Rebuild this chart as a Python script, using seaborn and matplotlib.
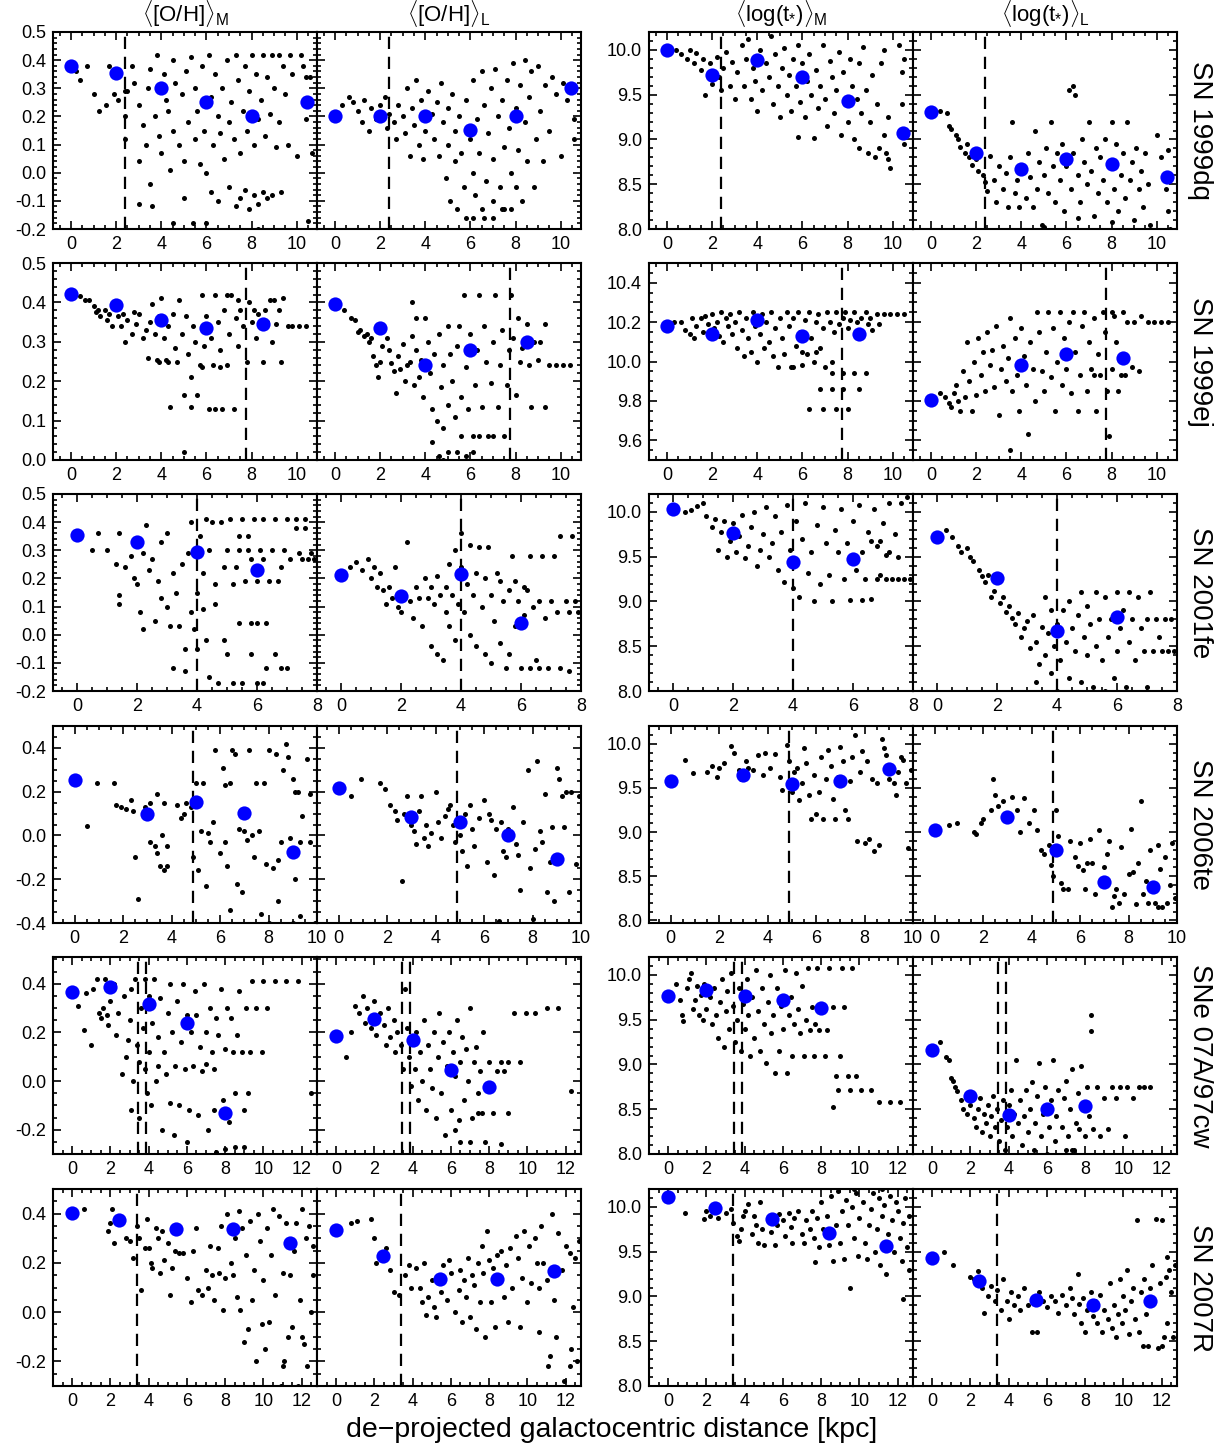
import matplotlib
matplotlib.use('Agg')
import matplotlib.pyplot as plt
import seaborn as sns
from matplotlib.ticker import AutoMinorLocator

# ---------------- data ----------------
# x = de-projected distance [kpc]; y = value in each panel
# bin centres (blue dots) per supernova host
dq_bins = [0, 2, 4, 6, 8, 10.45]
ej_bins = [0, 2, 4, 6, 8.5]
ej_agel_bins = [0, 4, 6, 8.5]
fe_bins = [0, 2, 4, 6]
te_bins = [0, 3, 5, 7, 9]
cw_bins = [0, 2, 4, 6, 8]
r_bins = [0, 2.45, 5.45, 8.4, 11.4]

dq_ohm_mean = [0.38, 0.355, 0.30, 0.253, 0.20, 0.253]
dq_ohl_mean = [0.20, 0.20, 0.20, 0.153, 0.20, 0.30]
dq_agem_mean = [10.0, 9.715, 9.89, 9.70, 9.43, 9.07]
dq_agel_mean = [9.31, 8.85, 8.67, 8.78, 8.73, 8.58]
ej_ohm_mean = [0.421, 0.393, 0.355, 0.335, 0.345]
ej_ohl_mean = [0.395, 0.335, 0.24, 0.278, 0.30]
ej_agem_mean = [10.18, 10.14, 10.21, 10.13, 10.14]
ej_agel_mean = [9.805, 9.98, 10.04, 10.02]
fe_ohm_mean = [0.355, 0.329, 0.293, 0.231]
fe_ohl_mean = [0.213, 0.136, 0.215, 0.043]
fe_agem_mean = [10.03, 9.77, 9.44, 9.47]
fe_agel_mean = [9.72, 9.26, 8.67, 8.83]
te_ohm_mean = [0.252, 0.098, 0.151, 0.101, -0.075]
te_ohl_mean = [0.215, 0.083, 0.063, 0.0, -0.106]
te_agem_mean = [9.575, 9.65, 9.54, 9.58, 9.71]
te_agel_mean = [9.02, 9.17, 8.80, 8.43, 8.38]
cw_ohm_mean = [0.365, 0.385, 0.315, 0.24, -0.13]
cw_ohl_mean = [0.185, 0.255, 0.17, 0.045, -0.025]
cw_agem_mean = [9.77, 9.83, 9.77, 9.72, 9.63]
cw_agel_mean = [9.16, 8.65, 8.43, 8.5, 8.54]
r_ohm_mean = [0.404, 0.374, 0.336, 0.336, 0.28]
r_ohl_mean = [0.334, 0.226, 0.135, 0.135, 0.168]
r_agem_mean = [10.11, 9.99, 9.86, 9.71, 9.56]
r_agel_mean = [9.43, 9.17, 8.96, 8.91, 8.95]

# individual spaxels (black dots), (distance, value)
dq_ohm_pts = [(0.2,0.36),(0.4,0.33),(0.7,0.38),(1.0,0.28),(1.25,0.22),(1.55,0.24),(1.7,0.38),(1.9,0.28),(2.1,0.26),(2.4,0.29),(2.4,0.2),(2.4,0.12),(2.5,0.29),(2.7,0.38),
    (2.8,0.32),(3.0,0.24),(3.0,0.04),(3.2,0.17),(3.3,0.10),(3.4,0.30),(3.5,-0.04),(3.5,0.37),(3.7,0.20),(3.6,-0.12),
    (3.8,0.42),(3.9,0.13),(4.0,0.07),(4.1,0.35),(4.2,0.26),(4.3,0.22),(4.4,0.01),(4.5,0.40),(4.5,0.15),(4.6,0.32),
    (4.8,0.10),(4.9,0.28),(5.0,-0.09),(5.0,0.04),(5.1,0.36),(5.2,0.18),(5.3,0.41),(5.4,-0.18),(5.5,0.12),(5.5,0.30),(5.6,0.22),(5.7,0.03),(5.8,0.38),
    (5.9,0.15),(6.0,0.00),(6.1,0.42),(6.2,0.27),(6.2,-0.07),(6.3,0.10),(6.4,0.35),(6.5,0.20),(6.5,-0.10),(6.6,0.14),(6.7,0.30),(6.8,0.05),(6.9,0.40),
    (7.0,0.18),(7.0,-0.05),(7.1,0.25),(7.2,0.12),(7.3,0.42),(7.3,-0.12),(7.4,0.33),(7.5,0.07),(7.5,-0.09),(7.6,0.22),(7.7,0.38),(7.7,-0.06),(7.8,0.15),(7.9,0.29),(7.9,-0.13),
    (8.0,0.42),(8.1,0.10),(8.1,-0.08),(8.2,0.35),(8.3,0.19),(8.3,-0.11),(8.4,0.26),(8.5,0.42),(8.5,-0.07),(8.6,0.13),(8.7,0.34),(8.7,-0.09),(8.8,0.21),(8.9,0.42),(8.9,-0.08),
    (9.0,0.30),(9.1,0.09),(9.2,0.42),(9.2,0.18),(9.3,-0.07),(9.4,0.38),(9.5,0.28),(9.6,0.10),(9.7,0.42),(9.8,0.35),(10.0,0.06),(10.2,0.42),(10.3,0.38),(10.4,0.19),
    (10.5,-0.17),(10.6,0.34),(10.7,0.07),(10.4,0.34),(4.5,-0.18),(6.0,-0.18),(8.3,-0.2),(3.0,-0.11)]
dq_ohl_pts = [(0.3,0.24),(0.6,0.27),(0.8,0.25),(1.0,0.22),(1.2,0.18),(1.3,0.26),(1.5,0.15),(1.6,0.23),(1.8,0.19),(2.0,0.24),(2.2,0.27),(2.3,0.16),(2.4,0.21),
    (2.6,0.18),(2.7,0.12),(2.8,0.24),(3.0,0.20),(3.1,0.14),(3.2,0.30),(3.3,0.06),(3.4,0.23),(3.5,0.17),(3.6,0.33),(3.7,0.10),(3.8,0.26),(3.9,0.05),(4.0,0.15),(4.1,0.29),
    (4.3,0.21),(4.4,0.12),(4.5,0.25),(4.6,0.06),(4.7,0.32),(4.8,0.18),(4.9,-0.02),(5.0,0.10),(5.0,0.23),(5.1,-0.10),(5.2,0.28),(5.3,0.04),(5.3,0.15),(5.4,-0.13),(5.5,0.20),(5.6,0.07),(5.7,-0.05),(5.8,0.26),(5.8,-0.16),
    (6.0,0.12),(6.1,0.00),(6.1,0.33),(6.2,-0.08),(6.3,0.19),(6.4,0.07),(6.5,0.36),(6.5,-0.13),(6.6,0.24),(6.7,-0.03),(6.8,0.14),(6.9,0.30),(7.0,0.05),(7.0,-0.10),
    (7.1,0.37),(7.2,0.20),(7.3,-0.05),(7.4,0.26),(7.5,0.09),(7.5,-0.13),(7.6,0.33),(7.7,0.16),(7.8,0.00),(7.9,0.39),(8.0,0.23),(8.0,-0.05),(8.1,0.08),(8.2,0.31),(8.3,-0.10),
    (8.4,0.40),(8.4,0.18),(8.5,0.04),(8.6,0.27),(8.7,0.36),(8.8,-0.05),(8.9,0.12),(9.0,0.38),(9.1,0.22),(9.2,0.04),(9.3,0.31),(9.5,0.15),(9.6,0.34),(9.8,0.28),(10.0,0.06),
    (10.1,0.32),(10.3,0.26),(10.6,0.12),(10.6,0.19),(6.1,-0.16),(6.6,-0.16),(7.0,-0.16),(7.4,-0.13),(7.8,-0.13)]
dq_agem_pts = [(0.4,10.0),(0.6,9.95),(0.9,9.9),(1.0,10.0),(1.2,9.85),(1.3,9.97),(1.5,9.78),(1.6,9.9),(1.7,9.5),(1.9,9.85),(2.0,9.62),(2.2,9.92),(2.3,9.7),(2.4,9.55),
    (2.5,9.8),(2.6,9.98),(2.8,9.6),(2.9,9.87),(3.0,9.45),(3.1,9.75),(3.3,10.05),(3.4,9.6),(3.5,9.9),(3.6,10.12),(3.7,9.45),(3.8,9.8),(3.9,9.65),(4.0,9.32),(4.1,10.0),(4.2,9.55),
    (4.4,9.85),(4.5,9.7),(4.6,10.15),(4.7,9.4),(4.8,9.95),(4.9,9.6),(5.0,9.25),(5.1,9.8),(5.2,10.02),(5.3,9.5),(5.4,9.72),(5.5,9.32),(5.6,9.9),(5.7,9.6),(5.8,10.05),(5.8,9.03),(5.9,9.42),
    (6.0,9.85),(6.1,9.25),(6.2,9.65),(6.3,9.95),(6.4,9.5),(6.5,9.02),(6.6,9.78),(6.7,9.35),(6.8,9.6),(6.9,10.05),(7.0,9.45),(7.1,9.15),(7.2,9.88),(7.3,9.7),(7.4,9.3),(7.5,9.55),
    (7.6,9.98),(7.7,9.05),(7.8,9.75),(7.9,9.4),(8.0,9.2),(8.1,9.9),(8.2,9.6),(8.3,9.0),(8.4,9.45),(8.5,9.85),(8.5,8.9),(8.6,9.3),(8.7,10.03),(8.8,9.55),(8.9,8.85),(9.0,9.2),
    (9.1,9.72),(9.2,8.8),(9.3,9.4),(9.4,8.9),(9.5,9.85),(9.6,9.05),(9.7,8.85),(9.8,9.25),(9.9,8.68),(9.8,8.78),(10.3,10.05),(10.4,9.75),(10.4,9.4),(10.5,9.9),(9.6,10.0),(10.5,8.95)]
dq_agel_pts = [(0.4,9.32),(0.7,9.3),(0.8,9.15),(0.9,9.12),(1.1,9.05),(1.2,9.0),(1.3,8.92),(1.5,8.85),(1.6,8.95),(1.7,8.8),(1.8,8.72),(2.0,8.78),(2.1,8.65),(2.3,8.6),
    (2.4,8.52),(2.5,8.42),(2.6,8.82),(2.8,8.55),(2.9,8.3),(3.0,8.7),(3.2,8.45),(3.3,8.62),(3.4,8.25),(3.5,8.8),(3.6,9.2),(3.7,8.4),(3.8,8.55),(3.9,8.25),(4.0,8.7),(4.2,8.35),
    (4.3,8.85),(4.4,8.58),(4.5,8.25),(4.6,9.1),(4.7,8.45),(4.8,8.75),(4.9,8.05),(5.0,8.6),(5.1,8.9),(5.2,8.4),(5.3,9.2),(5.4,8.7),(5.5,8.3),(5.6,8.85),(5.7,8.55),(5.8,8.95),
    (5.9,8.2),(6.0,8.7),(6.1,9.55),(6.2,8.45),(6.3,9.6),(6.3,8.85),(6.4,9.5),(6.5,8.6),(6.6,8.3),(6.7,9.0),(6.8,8.75),(6.9,8.5),(7.0,9.2),(7.1,8.65),(7.2,8.15),(7.3,8.9),
    (7.4,8.4),(7.5,8.8),(7.6,8.55),(7.7,9.0),(7.8,8.3),(7.9,8.7),(8.0,9.2),(8.1,8.45),(8.2,8.95),(8.3,8.2),(8.4,8.6),(8.5,8.85),(8.6,8.35),(8.7,9.2),(8.8,8.55),(8.9,8.75),
    (9.0,8.1),(9.1,8.9),(9.2,8.45),(9.3,8.65),(9.4,8.25),(9.5,8.85),(9.6,8.5),(9.7,8.05),(10.0,9.05),(10.2,8.8),(10.4,8.45),(10.5,8.2),(10.6,8.0),(10.5,8.88),(5.0,8.02),(8.0,8.08),(6.5,8.12)]

ej_ohm_pts = [(0.4,0.415),(0.6,0.405),(0.8,0.405),(1.0,0.39),(1.1,0.375),(1.2,0.38),(1.3,0.365),(1.5,0.38),(1.6,0.355),(1.7,0.37),(1.8,0.34),(1.9,0.385),(2.1,0.365),
    (2.2,0.34),(2.3,0.37),(2.4,0.30),(2.5,0.355),(2.7,0.32),(2.8,0.375),(2.9,0.345),(3.0,0.37),(3.2,0.31),(3.3,0.33),(3.4,0.26),(3.5,0.35),(3.6,0.395),(3.7,0.32),(3.8,0.255),
    (3.9,0.365),(4.0,0.41),(4.1,0.31),(4.2,0.255),(4.3,0.34),(4.4,0.135),(4.5,0.37),(4.6,0.285),(4.7,0.25),(4.8,0.405),(4.9,0.32),(5.0,0.165),(5.0,0.02),(5.1,0.365),(5.2,0.27),
    (5.3,0.21),(5.4,0.34),(5.5,0.30),(5.6,0.165),(5.7,0.24),(5.8,0.42),(5.9,0.29),(6.0,0.365),(6.1,0.13),(6.2,0.31),(6.3,0.24),(6.4,0.42),(6.5,0.35),(6.6,0.28),(6.7,0.13),
    (6.8,0.38),(6.9,0.24),(7.0,0.32),(7.1,0.42),(7.2,0.13),(7.3,0.36),(7.4,0.29),(7.5,0.38),(7.6,0.34),(7.8,0.25),(7.9,0.40),(8.0,0.35),(8.1,0.38),(8.2,0.31),(8.3,0.37),
    (8.5,0.25),(8.6,0.38),(8.7,0.35),(8.9,0.30),(9.0,0.405),(9.1,0.345),(9.2,0.38),(9.3,0.25),(9.4,0.41),(9.6,0.34),(9.8,0.34),(10.1,0.34),(10.4,0.34),(6.9,0.42),(7.4,0.405),
    (8.8,0.405),(5.3,0.135),(6.4,0.13),(5.8,0.235),(6.6,0.235),(4.3,0.25),(3.9,0.25)]
ej_ohl_pts = [(0.4,0.38),(0.7,0.36),(0.9,0.355),(1.0,0.325),(1.1,0.33),(1.3,0.315),(1.4,0.32),(1.5,0.30),(1.6,0.31),(1.7,0.265),(1.8,0.24),(1.9,0.21),(2.0,0.25),
    (2.1,0.29),(2.3,0.31),(2.4,0.28),(2.5,0.245),(2.6,0.225),(2.7,0.17),(2.8,0.265),(2.9,0.23),(3.0,0.295),(3.1,0.20),(3.2,0.24),(3.3,0.25),(3.4,0.315),(3.4,0.40),(3.5,0.19),
    (3.6,0.28),(3.6,0.36),(3.7,0.21),(3.8,0.255),(3.9,0.16),(4.0,0.36),(4.1,0.30),(4.2,0.22),(4.3,0.13),(4.4,0.27),(4.5,0.10),(4.6,0.32),(4.7,0.185),(4.8,0.08),(4.8,0.24),
    (5.0,0.34),(5.0,0.14),(5.1,0.27),(5.2,0.20),(5.3,0.11),(5.4,0.29),(5.5,0.34),(5.6,0.16),(5.7,0.42),(5.8,0.235),(5.9,0.13),(6.0,0.32),(6.1,0.06),(6.2,0.19),(6.3,0.28),
    (6.4,0.42),(6.5,0.135),(6.6,0.34),(6.7,0.25),(6.8,0.06),(6.9,0.195),(7.0,0.30),(7.1,0.42),(7.2,0.135),(7.3,0.24),(7.4,0.33),(7.5,0.06),(7.6,0.19),(7.7,0.28),(7.8,0.42),
    (7.9,0.31),(8.0,0.165),(8.1,0.36),(8.2,0.25),(8.3,0.285),(8.5,0.345),(8.6,0.24),(8.7,0.135),(8.8,0.30),(9.0,0.255),(9.1,0.30),(9.3,0.135),(9.3,0.345),(9.5,0.24),
    (9.8,0.24),(10.1,0.24),(10.4,0.24),(4.3,0.045),(4.6,0.01),(5.0,0.02),(5.4,0.02),(5.8,0.01),(6.1,0.02),(4.8,0.0),(5.6,0.06),(6.4,0.06),(7.0,0.06)]
ej_agem_pts = [(0.3,10.2),(0.6,10.2),(0.8,10.16),(1.0,10.14),(1.1,10.22),(1.2,10.12),(1.3,10.18),(1.5,10.22),(1.6,10.15),(1.7,10.23),(1.8,10.19),(2.0,10.24),(2.1,10.17),
    (2.2,10.2),(2.3,10.13),(2.4,10.25),(2.5,10.1),(2.6,10.22),(2.7,10.18),(2.8,10.24),(2.9,10.14),(3.0,10.2),(3.1,10.07),(3.2,10.25),(3.3,10.16),(3.4,10.03),(3.5,10.22),
    (3.6,10.12),(3.7,10.05),(3.8,10.25),(3.9,10.18),(4.0,10.0),(4.1,10.14),(4.2,10.24),(4.3,10.07),(4.4,10.2),(4.5,10.1),(4.6,10.25),(4.7,10.03),(4.8,10.17),(4.9,9.97),
    (5.0,10.22),(5.1,10.12),(5.2,10.04),(5.3,10.25),(5.4,10.18),(5.5,9.97),(5.6,10.22),(5.7,10.08),(5.8,10.25),(5.9,10.15),(6.0,9.98),(6.1,10.21),(6.2,10.04),(6.3,10.25),
    (6.4,10.12),(6.5,10.0),(6.6,10.2),(6.7,10.24),(6.8,10.07),(6.9,10.17),(7.0,9.97),(7.1,10.25),(7.2,10.2),(7.3,10.0),(7.4,10.15),(7.5,10.25),(7.6,10.19),(7.8,10.22),
    (7.9,10.25),(8.0,10.17),(8.1,10.21),(8.3,10.25),(8.4,10.2),(8.5,10.16),(8.6,10.22),(8.8,10.25),(8.9,10.19),(9.0,10.22),(9.1,10.16),(9.3,10.24),(9.4,10.19),(9.6,10.24),
    (9.9,10.24),(10.2,10.24),(10.5,10.24),(7.3,9.94),(7.8,9.94),(8.3,9.94),(8.8,9.94),(6.8,9.86),(7.3,9.86),(7.8,9.86),(8.5,9.86),(6.3,9.76),(6.9,9.76),(7.5,9.76),(8.0,9.76),
    (6.0,10.05),(6.6,10.05),(5.6,9.97)]
ej_agel_pts = [(0.4,9.84),(0.6,9.82),(0.8,9.79),(0.9,9.77),(1.0,9.84),(1.1,9.88),(1.2,9.8),(1.3,9.75),(1.4,9.95),(1.5,9.82),(1.6,10.1),(1.7,9.9),(1.8,9.75),(1.9,10.0),
    (2.0,9.83),(2.1,10.12),(2.2,9.93),(2.3,10.05),(2.4,9.85),(2.5,10.15),(2.6,9.98),(2.7,10.06),(2.8,9.87),(2.9,10.18),(3.0,9.73),(3.1,9.96),(3.2,10.08),(3.3,9.9),(3.4,10.02),
    (3.5,10.22),(3.5,9.55),(3.6,9.85),(3.7,10.12),(3.8,9.93),(3.9,9.75),(4.0,10.17),(4.1,10.03),(4.2,9.88),(4.3,9.63),(4.4,10.1),(4.5,9.96),(4.6,9.8),(4.7,10.25),(4.8,10.15),
    (4.9,9.95),(5.0,9.85),(5.1,10.05),(5.2,10.25),(5.3,9.92),(5.4,10.17),(5.5,9.75),(5.6,10.0),(5.7,10.25),(5.8,9.88),(5.9,10.12),(6.0,9.96),(6.1,10.2),(6.2,9.84),(6.3,10.25),
    (6.4,10.05),(6.5,9.75),(6.6,9.93),(6.7,10.18),(6.8,10.25),(6.9,9.85),(7.0,10.1),(7.1,9.96),(7.2,10.22),(7.3,9.75),(7.4,10.04),(7.5,9.93),(7.6,10.25),(7.7,10.15),(7.8,9.85),
    (7.9,9.62),(8.0,9.96),(8.1,10.23),(8.2,10.1),(8.3,9.85),(8.4,9.93),(8.5,10.25),(8.7,10.2),(8.9,9.97),(9.0,10.2),(9.2,9.95),(9.3,10.23),(9.6,10.2),(9.9,10.2),(10.2,10.2),
    (10.5,10.2),(8.0,10.25),(7.2,9.93),(8.6,9.93)]

fe_ohm_pts = [(0.5,0.30),(0.7,0.36),(1.0,0.30),(1.4,0.36),(1.3,0.25),(1.4,0.14),(1.4,0.11),(1.6,0.24),(1.8,0.28),(1.9,0.2),(2.0,0.18),(2.1,0.08),(2.2,0.29),(2.2,0.02),
    (2.3,0.39),(2.4,0.23),(2.5,0.27),(2.6,0.05),(2.7,0.19),(2.8,0.13),(2.8,0.33),(3.0,0.1),(3.0,0.36),(3.1,0.03),(3.2,0.22),(3.2,-0.12),(3.3,0.15),(3.4,0.03),(3.5,0.25),
    (3.6,-0.05),(3.6,-0.13),(3.7,0.29),(3.8,0.4),(3.8,0.08),(3.9,0.02),(4.0,0.15),(4.0,-0.05),(4.1,0.35),(4.2,0.09),(4.2,0.22),(4.3,-0.02),(4.3,0.41),(4.4,0.3),(4.4,-0.15),
    (4.5,0.4),(4.6,0.18),(4.6,0.11),(4.7,-0.17),(4.8,0.4),(4.9,0.24),(4.9,-0.02),(5.0,0.3),(5.0,-0.07),(5.1,0.41),(5.2,0.18),(5.2,-0.17),(5.3,0.24),(5.4,0.3),(5.4,0.04),
    (5.5,0.41),(5.5,-0.17),(5.6,0.19),(5.7,0.3),(5.8,0.04),(5.8,-0.07),(5.9,0.41),(6.0,-0.17),(6.0,0.19),(6.1,0.3),(6.2,0.41),(6.3,0.04),(6.3,-0.12),(6.4,0.19),(6.5,0.3),
    (6.6,0.41),(6.6,-0.07),(6.7,0.19),(6.8,-0.12),(6.9,0.3),(7.0,0.41),(7.0,-0.12),(7.1,0.27),(7.3,0.41),(7.3,0.38),(7.4,0.29),(7.5,0.27),(7.6,0.41),(7.7,0.27),(7.8,0.29),
    (7.9,0.27),(7.6,0.38),(5.4,0.35),(5.7,0.35),(6.0,0.04),(6.8,0.24),(6.2,-0.17),(5.8,0.27),(6.2,0.27)]
fe_ohl_pts = [(0.3,0.24),(0.5,0.26),(0.7,0.23),(0.9,0.27),(1.0,0.2),(1.1,0.24),(1.2,0.17),(1.3,0.22),(1.4,0.16),(1.5,0.11),(1.6,0.17),(1.7,0.13),(1.8,0.24),(1.9,0.1),
    (2.0,0.08),(2.1,0.15),(2.2,0.33),(2.3,0.12),(2.4,0.06),(2.5,0.17),(2.6,0.13),(2.7,0.03),(2.8,0.2),(2.9,0.13),(3.0,-0.04),(3.0,0.17),(3.1,0.11),(3.2,-0.07),(3.2,0.21),
    (3.3,0.14),(3.4,-0.09),(3.5,0.17),(3.5,0.08),(3.6,0.25),(3.6,0.03),(3.7,0.14),(3.8,0.3),(3.8,-0.02),(3.9,0.11),(4.0,0.36),(4.0,0.24),(4.1,0.08),(4.2,0.18),(4.3,0.32),
    (4.3,0.0),(4.4,0.14),(4.5,0.22),(4.5,-0.04),(4.6,0.31),(4.7,0.1),(4.8,-0.07),(4.8,0.2),(4.9,0.31),(5.0,0.14),(5.0,-0.1),(5.1,0.05),(5.2,0.22),(5.3,-0.03),(5.4,0.12),
    (5.5,-0.12),(5.6,0.16),(5.6,-0.07),(5.7,0.28),(5.8,0.03),(5.9,0.12),(6.0,-0.12),(6.1,0.07),(6.2,0.16),(6.3,-0.12),(6.3,0.28),(6.4,0.1),(6.5,-0.09),(6.6,0.12),(6.7,0.28),
    (6.8,0.06),(6.9,-0.12),(7.0,0.12),(7.1,0.28),(7.2,0.08),(7.3,-0.12),(7.3,0.35),(7.5,0.12),(7.6,0.08),(7.7,0.35),(7.8,0.12),(7.9,0.08),(7.6,-0.13),(6.6,-0.12),(5.3,0.19),
    (5.8,0.19),(6.1,0.17)]
fe_agem_pts = [(0.4,10.0),(0.6,10.02),(0.8,10.07),(1.0,10.1),(1.1,9.95),(1.3,9.83),(1.4,9.92),(1.5,9.58),(1.6,9.78),(1.7,9.9),(1.8,9.5),(1.9,9.67),(2.0,9.88),(2.1,9.55),
    (2.2,9.73),(2.3,9.97),(2.4,9.48),(2.5,9.62),(2.6,9.83),(2.7,10.0),(2.8,9.4),(2.9,9.58),(3.0,9.75),(3.1,10.05),(3.2,9.5),(3.3,9.65),(3.4,9.95),(3.5,9.35),(3.6,9.78),
    (3.7,9.22),(3.8,10.08),(3.9,9.57),(4.0,9.15),(4.1,9.9),(4.2,9.05),(4.3,9.7),(4.4,10.1),(4.5,9.32),(4.6,9.55),(4.7,9.0),(4.8,9.85),(4.9,9.2),(5.0,10.05),(5.1,9.65),
    (5.2,9.3),(5.3,9.0),(5.4,9.8),(5.5,9.55),(5.6,10.03),(5.7,9.25),(5.8,9.65),(5.9,9.02),(6.0,9.9),(6.1,9.35),(6.2,10.08),(6.3,9.55),(6.4,9.25),(6.5,9.78),(6.6,9.03),
    (6.7,10.03),(6.8,9.62),(6.9,9.3),(7.0,9.88),(7.1,9.52),(7.2,10.1),(7.3,9.25),(7.4,9.75),(7.5,9.5),(7.6,10.1),(7.7,9.25),(7.9,9.25),(7.8,10.17),(7.5,9.25),(7.1,9.25),
    (6.8,9.25),(6.3,9.02),(6.9,9.67),(6.6,9.67),(7.2,9.55)]
fe_agel_pts = [(0.3,9.8),(0.5,9.72),(0.7,9.62),(0.8,9.55),(1.0,9.6),(1.1,9.5),(1.2,9.45),(1.4,9.35),(1.5,9.28),(1.6,9.22),(1.7,9.3),(1.8,9.05),(1.9,9.12),(2.1,8.98),
    (2.2,9.05),(2.3,8.88),(2.4,8.95),(2.5,8.82),(2.6,8.75),(2.7,8.87),(2.8,8.6),(2.9,8.7),(3.0,8.78),(3.1,8.48),(3.2,8.85),(3.3,8.55),(3.4,8.3),(3.5,8.72),(3.6,8.4),(3.6,9.05),
    (3.7,8.65),(3.8,8.2),(3.8,8.9),(3.9,8.5),(4.0,8.0),(4.0,8.75),(4.1,8.35),(4.2,8.9),(4.3,8.55),(4.4,8.15),(4.4,9.0),(4.5,8.7),(4.6,8.45),(4.7,8.85),(4.8,8.1),(4.8,9.1),
    (4.9,8.6),(5.0,8.4),(5.0,8.95),(5.1,8.75),(5.2,8.05),(5.3,9.1),(5.3,8.5),(5.4,8.8),(5.5,8.35),(5.6,9.05),(5.7,8.6),(5.8,8.8),(5.9,8.15),(6.0,9.1),(6.0,8.45),(6.1,8.7),
    (6.2,8.9),(6.3,8.05),(6.4,9.1),(6.4,8.55),(6.5,8.8),(6.6,8.35),(6.7,9.05),(6.8,8.7),(6.9,8.45),(7.0,8.05),(7.0,8.8),(7.1,9.1),(7.2,8.45),(7.3,8.8),(7.4,8.6),(7.5,8.45),
    (7.6,8.8),(7.7,8.45),(7.8,8.8),(7.9,8.45),(3.3,8.1),(4.6,7.98),(5.6,8.0)]

te_ohm_pts = [(0.5,0.045),(0.9,0.24),(1.6,0.24),(1.7,0.14),(1.9,0.13),(2.1,0.12),(2.3,0.16),(2.4,0.11),(2.5,-0.1),(2.6,-0.29),(2.9,0.13),(3.1,0.15),(3.1,-0.03),(3.3,-0.05),
    (3.4,0.19),(3.4,-0.08),(3.5,-0.14),(3.6,0.0),(3.7,-0.16),(3.7,0.15),(3.8,-0.05),(3.8,-0.14),(4.2,0.14),(4.4,0.08),(4.5,0.1),(4.6,0.15),(4.8,0.13),(4.9,-0.1),(5.0,0.24),
    (5.1,-0.16),(5.2,0.02),(5.3,0.24),(5.4,-0.23),(5.5,0.01),(5.6,-0.03),(5.7,0.06),(5.8,0.39),(6.0,-0.08),(6.1,0.31),(6.2,0.23),(6.2,-0.03),(6.3,-0.14),(6.4,-0.34),(6.5,0.39),
    (6.6,0.37),(6.7,-0.22),(6.8,0.03),(6.9,-0.26),(7.0,0.02),(7.1,-0.02),(7.2,0.39),(7.3,0.0),(7.4,-0.1),(7.5,0.24),(7.6,0.02),(7.7,-0.36),(7.8,0.24),(7.9,-0.13),(8.0,0.39),
    (8.2,-0.15),(8.3,0.37),(8.4,-0.11),(8.5,-0.03),(8.6,0.3),(8.7,0.42),(8.8,0.36),(8.9,-0.01),(9.0,0.26),(9.1,-0.2),(9.1,0.2),(9.2,0.2),(9.3,-0.03),(9.4,0.09),(9.6,0.35),
    (9.7,0.19),(9.9,-0.4),(8.4,-0.3),(9.0,-0.4),(9.3,-0.37),(9.7,-0.03),(8.0,-0.4),(6.4,0.24)]
te_ohl_pts = [(0.5,0.18),(0.9,0.26),(1.7,0.24),(1.9,0.21),(2.1,0.14),(2.3,0.11),(2.4,0.07),(2.6,-0.21),(2.7,0.1),(2.8,0.18),(3.0,0.05),(3.1,0.02),(3.2,-0.04),(3.3,0.11),
    (3.4,0.18),(3.5,-0.01),(3.6,0.05),(3.7,-0.05),(3.8,0.01),(4.0,0.2),(4.1,0.06),(4.2,-0.01),(4.4,0.09),(4.5,0.12),(4.6,0.14),(4.7,0.05),(4.8,-0.03),(5.0,0.0),(5.1,-0.07),
    (5.2,0.1),(5.3,-0.14),(5.4,0.14),(5.5,0.03),(5.6,-0.05),(5.8,0.08),(6.0,0.16),(6.1,-0.12),(6.2,0.1),(6.3,0.07),(6.4,-0.18),(6.5,0.03),(6.6,-0.39),(6.7,0.06),(6.8,-0.07),
    (6.9,-0.1),(7.0,0.03),(7.2,0.13),(7.3,-0.04),(7.4,-0.09),(7.5,-0.25),(7.6,0.06),(7.8,0.3),(7.9,-0.15),(8.0,-0.38),(8.2,0.34),(8.3,0.02),(8.4,-0.03),(8.5,0.19),(8.6,-0.26),
    (8.7,-0.12),(8.8,0.04),(8.9,-0.3),(9.0,0.31),(9.1,0.26),(9.2,0.18),(9.3,0.04),(9.4,0.2),(9.5,-0.26),(9.6,0.2),(9.8,-0.13),(9.9,0.18),(8.1,-0.06)]
te_agem_pts = [(0.6,9.82),(0.9,9.67),(1.5,9.68),(1.7,9.75),(1.9,9.62),(2.0,9.72),(2.2,9.78),(2.5,9.97),(2.6,9.9),(2.8,9.7),(2.9,9.6),(3.1,9.8),(3.2,9.72),(3.4,9.7),(3.6,9.87),
    (3.8,9.65),(3.9,9.9),(4.1,9.72),(4.3,9.88),(4.5,9.62),(4.6,9.48),(4.8,9.98),(4.9,9.8),(5.0,9.45),(5.1,9.68),(5.2,9.72),(5.3,9.36),(5.4,9.55),(5.5,9.95),(5.6,9.78),
    (5.7,9.42),(5.8,9.15),(5.9,9.65),(6.0,9.2),(6.1,9.45),(6.2,9.85),(6.3,9.15),(6.4,9.6),(6.5,9.93),(6.6,9.75),(6.7,9.37),(6.8,9.15),(6.9,9.62),(7.0,9.96),(7.1,9.8),
    (7.2,9.25),(7.3,9.15),(7.4,9.58),(7.5,9.85),(7.6,10.1),(7.7,8.9),(7.8,9.68),(7.9,9.92),(8.0,8.88),(8.1,9.8),(8.2,8.92),(8.3,9.6),(8.4,8.78),(8.5,9.55),(8.6,8.85),
    (8.7,10.05),(8.8,9.95),(9.0,9.6),(9.2,9.55),(9.3,9.42),(9.4,9.68),(9.5,9.85),(9.7,9.55),(9.8,8.82),(9.9,9.7),(8.9,9.87),(9.6,9.82)]
te_agel_pts = [(0.6,9.08),(0.9,9.1),(1.6,9.0),(1.7,8.98),(1.9,9.1),(2.0,9.15),(2.3,9.25),(2.4,9.6),(2.5,9.42),(2.6,9.3),(2.8,9.35),(3.0,9.22),(3.2,9.4),(3.4,9.25),(3.5,9.0),
    (3.7,9.38),(3.9,9.1),(4.1,9.25),(4.2,9.02),(4.4,8.8),(4.5,8.75),(4.7,8.85),(4.8,8.63),(4.9,8.5),(5.0,9.25),(5.1,8.95),(5.2,8.42),(5.3,8.35),(5.5,8.35),(5.6,8.9),(5.8,8.72),
    (5.9,8.62),(6.0,8.88),(6.1,8.57),(6.2,8.35),(6.3,8.65),(6.4,8.92),(6.5,8.65),(6.6,8.3),(6.8,9.02),(6.9,8.45),(7.0,8.6),(7.1,8.75),(7.2,8.9),(7.3,8.15),(7.4,8.28),(7.5,8.35),
    (7.6,8.2),(7.7,8.83),(7.8,8.3),(8.0,8.52),(8.1,9.03),(8.2,8.55),(8.3,8.18),(8.4,8.65),(8.5,9.35),(8.6,8.3),(8.7,8.45),(8.8,8.2),(8.9,8.8),(9.1,8.2),(9.2,8.85),(9.3,8.58),
    (9.4,8.15),(9.5,8.72),(9.6,8.2),(9.7,8.4),(9.8,8.88),(9.9,8.25),(9.2,8.15)]

cw_ohm_pts = [(0.3,0.31),(0.7,0.36),(0.6,0.21),(1.0,0.15),(1.1,0.38),(1.3,0.42),(1.4,0.28),(1.5,0.26),(1.6,0.3),(1.7,0.42),(1.8,0.27),(1.9,0.23),(2.0,0.33),(2.2,0.4),
    (2.3,0.19),(2.4,0.28),(2.6,0.03),(2.7,0.35),(2.8,0.1),(2.9,0.17),(3.0,0.25),(3.1,0.38),(3.1,-0.12),(3.2,0.0),(3.3,0.42),(3.4,0.15),(3.5,0.08),(3.5,-0.15),(3.6,0.3),
    (3.7,0.22),(3.8,0.42),(3.8,0.05),(3.9,-0.05),(4.0,0.35),(4.0,0.12),(4.1,-0.1),(4.2,0.24),(4.3,0.42),(4.4,0.0),(4.5,0.18),(4.5,0.06),(4.6,0.34),(4.7,-0.2),(4.8,0.12),
    (4.9,0.03),(5.0,0.28),(5.1,-0.09),(5.1,0.4),(5.2,0.2),(5.3,-0.22),(5.4,0.06),(5.5,0.33),(5.6,-0.1),(5.7,0.16),(5.8,0.4),(5.9,0.05),(6.0,0.27),(6.1,-0.12),(6.2,0.2),
    (6.3,0.06),(6.4,0.37),(6.5,0.27),(6.6,-0.14),(6.7,0.14),(6.8,0.04),(6.9,0.4),(7.0,0.2),(7.1,-0.2),(7.2,0.3),(7.3,0.12),(7.4,-0.12),(7.5,0.26),(7.6,0.19),(7.8,0.38),
    (7.9,-0.08),(8.0,0.13),(8.1,0.3),(8.2,-0.17),(8.3,0.26),(8.4,0.12),(8.5,-0.05),(8.6,0.19),(8.7,0.37),(8.9,0.12),(9.0,-0.12),(9.1,0.3),(9.3,0.12),(9.6,0.3),(9.9,0.12),
    (10.2,0.3),(9.4,0.41),(10.0,0.41),(10.6,0.41),(11.2,0.41),(11.8,0.41),(12.5,-0.05),(8.0,-0.28),(8.5,-0.27),(9.0,-0.27),(7.5,-0.29),(6.0,-0.25),(9.2,-0.05),(7.0,0.07),(7.4,0.05)]
cw_ohl_pts = [(0.5,0.1),(0.8,0.2),(1.0,0.31),(1.2,0.28),(1.4,0.35),(1.5,0.24),(1.6,0.3),(1.8,0.22),(2.0,0.33),(2.1,0.19),(2.3,0.28),(2.5,0.23),(2.6,0.15),(2.7,0.3),
    (2.8,0.18),(3.0,0.25),(3.1,0.12),(3.2,0.2),(3.4,0.15),(3.5,0.05),(3.6,0.38),(3.7,0.22),(3.8,0.1),(3.9,-0.02),(4.0,0.16),(4.1,0.05),(4.2,0.2),(4.3,-0.08),(4.4,0.12),
    (4.5,0.0),(4.6,0.25),(4.7,-0.12),(4.8,0.15),(4.9,0.05),(5.0,-0.03),(5.1,0.2),(5.2,-0.15),(5.3,0.1),(5.4,0.28),(5.5,-0.05),(5.6,0.16),(5.7,-0.22),(5.8,0.06),(5.9,0.2),
    (6.0,-0.12),(6.1,0.12),(6.2,0.02),(6.3,0.25),(6.4,-0.16),(6.5,0.08),(6.6,0.18),(6.7,-0.08),(6.8,0.13),(6.9,0.0),(7.0,0.3),(7.1,-0.15),(7.2,0.08),(7.3,0.14),(7.4,-0.05),
    (7.5,0.04),(7.6,-0.13),(7.7,0.2),(7.8,-0.25),(8.0,0.08),(8.2,-0.13),(8.4,0.04),(8.6,0.08),(8.8,0.04),(9.0,-0.13),(9.0,0.08),(9.3,0.28),(9.6,0.08),(9.9,0.28),(10.4,0.28),
    (11.0,0.3),(11.6,0.3),(12.3,-0.04),(6.5,-0.25),(7.0,-0.25),(8.6,-0.26),(7.4,-0.13),(6.2,-0.2)]
cw_agem_pts = [(0.4,9.9),(0.6,9.72),(0.7,9.55),(0.8,9.48),(1.0,9.85),(1.1,9.95),(1.2,10.02),(1.3,9.62),(1.4,9.72),(1.5,9.88),(1.6,9.55),(1.7,9.78),(1.8,9.5),(1.9,9.9),
    (2.0,9.62),(2.2,9.75),(2.3,9.45),(2.4,9.85),(2.5,9.55),(2.6,9.3),(2.7,9.7),(2.8,9.95),(2.9,9.2),(3.0,9.6),(3.1,9.82),(3.2,9.4),(3.3,10.02),(3.4,9.65),(3.5,9.25),(3.6,9.5),
    (3.7,9.85),(3.8,9.15),(3.9,9.68),(4.0,9.4),(4.1,9.95),(4.2,9.55),(4.3,9.1),(4.4,9.75),(4.5,9.3),(4.6,10.05),(4.7,9.6),(4.8,9.15),(4.9,9.85),(5.0,9.45),(5.1,9.02),
    (5.2,9.7),(5.3,10.0),(5.4,9.35),(5.5,9.55),(5.6,8.9),(5.7,9.85),(5.8,9.15),(5.9,9.65),(6.0,9.4),(6.1,10.05),(6.2,8.9),(6.3,9.55),(6.4,9.75),(6.5,9.1),(6.6,9.45),
    (6.7,10.02),(6.8,9.62),(6.9,9.35),(7.0,9.88),(7.1,9.1),(7.2,9.5),(7.3,10.08),(7.4,9.38),(7.5,9.64),(7.6,9.1),(7.7,9.45),(7.8,10.08),(7.9,9.38),(8.0,9.64),(8.2,9.1),
    (8.4,10.08),(8.6,9.64),(8.8,8.87),(9.1,10.08),(9.2,9.64),(9.4,8.87),(9.6,10.08),(9.8,8.87),(8.9,8.72),(9.5,8.72),(10.1,8.72),(10.6,8.72),(11.0,8.58),(11.6,8.58),
    (12.1,8.58),(8.6,8.52),(8.3,9.38),(9.0,9.1)]
cw_agel_pts = [(0.4,9.25),(0.7,9.08),(0.9,9.05),(1.0,8.85),(1.1,8.82),(1.2,8.75),(1.3,8.7),(1.5,8.6),(1.6,8.5),(1.8,8.45),(2.0,8.55),(2.2,8.4),(2.3,8.3),(2.4,8.5),(2.5,8.62),
    (2.6,8.25),(2.7,8.45),(2.8,8.35),(2.9,8.55),(3.0,8.2),(3.1,8.42),(3.2,8.65),(3.3,8.3),(3.4,8.5),(3.5,8.15),(3.6,8.38),(3.7,8.6),(3.8,8.05),(3.9,8.3),(4.0,8.55),(4.1,8.72),
    (4.2,8.2),(4.3,8.45),(4.4,9.05),(4.5,8.35),(4.6,8.6),(4.7,8.1),(4.8,8.42),(4.9,8.72),(5.0,8.25),(5.1,8.5),(5.2,8.8),(5.3,8.05),(5.4,8.35),(5.5,8.65),(5.6,9.02),(5.7,8.2),
    (5.8,8.45),(5.9,8.75),(6.0,8.0),(6.1,8.3),(6.2,8.6),(6.3,9.05),(6.4,8.15),(6.5,8.42),(6.6,8.72),(6.7,7.98),(6.8,8.3),(6.9,8.62),(7.0,8.82),(7.1,8.2),(7.2,8.5),(7.3,8.95),
    (7.4,8.05),(7.5,8.35),(7.6,8.68),(7.7,8.28),(7.8,8.98),(7.9,8.55),(8.0,8.2),(8.1,8.75),(8.2,8.42),(8.3,9.55),(8.3,9.37),(8.4,8.28),(8.6,8.75),(8.8,8.2),(9.0,8.63),
    (9.2,8.28),(9.4,8.75),(9.6,8.63),(9.8,8.75),(10.1,8.2),(10.2,8.75),(10.5,8.63),(10.8,8.75),(11.1,8.75),(11.4,8.75),(7.0,8.05),(7.3,8.05)]

r_ohm_pts = [(0.6,0.42),(1.9,0.33),(2.0,0.36),(2.1,0.42),(2.2,0.28),(2.5,0.36),(2.8,0.3),(3.0,0.29),(3.2,0.22),(3.4,0.35),(3.5,0.3),(3.6,0.09),(3.8,0.26),(3.9,0.38),
    (4.0,0.26),(4.1,0.2),(4.2,0.18),(4.4,0.34),(4.5,0.3),(4.6,0.16),(4.7,0.33),(4.8,0.21),(5.0,0.28),(5.1,0.07),(5.2,0.18),(5.4,0.25),(5.6,0.24),(5.8,0.24),(6.0,0.14),
    (6.2,0.04),(6.3,0.25),(6.5,0.34),(6.6,0.09),(6.8,0.07),(7.0,0.17),(7.1,0.1),(7.2,0.27),(7.3,0.15),(7.4,0.05),(7.6,0.26),(7.7,0.16),(7.8,0.35),(7.9,0.01),(8.0,0.14),
    (8.1,0.4),(8.3,0.2),(8.4,0.15),(8.5,0.3),(8.6,0.06),(8.7,0.41),(8.8,0.01),(8.9,0.34),(9.0,-0.12),(9.1,0.23),(9.2,-0.07),(9.3,0.37),(9.4,0.05),(9.5,0.17),(9.6,-0.2),
    (9.7,0.4),(9.8,0.29),(9.9,-0.05),(10.0,0.13),(10.1,-0.15),(10.2,0.34),(10.3,-0.04),(10.4,0.23),(10.5,0.42),(10.6,0.07),(10.8,0.39),(10.9,-0.3),(11.0,0.16),(11.1,-0.2),
    (11.2,0.36),(11.3,-0.1),(11.4,0.15),(11.5,-0.06),(11.6,0.25),(11.7,0.36),(11.8,-0.3),(11.9,0.05),(12.0,0.42),(12.1,-0.13),(12.2,0.3),(12.3,-0.22),(12.4,0.35),(12.5,0.0),
    (12.6,0.27),(12.6,0.15),(11.0,-0.22),(12.0,-0.1)]
r_ohl_pts = [(0.8,0.36),(1.1,0.37),(1.8,0.38),(2.0,0.3),(2.1,0.2),(2.6,0.26),(2.8,0.17),(3.0,0.08),(3.3,0.07),(3.6,0.15),(3.8,0.19),(3.9,0.1),(4.2,0.18),(4.4,0.1),(4.5,0.04),
    (4.6,0.2),(4.7,-0.01),(4.8,0.06),(5.0,0.13),(5.1,0.02),(5.2,-0.02),(5.4,0.12),(5.5,0.08),(5.6,0.19),(5.8,0.05),(5.9,0.21),(6.0,0.16),(6.2,0.0),(6.4,0.09),(6.5,0.17),
    (6.6,-0.04),(6.7,0.13),(6.8,0.06),(6.9,0.22),(7.0,-0.02),(7.1,0.15),(7.2,0.11),(7.3,-0.07),(7.4,0.2),(7.5,0.04),(7.6,0.27),(7.7,0.16),(7.8,-0.1),(7.9,0.33),(8.0,0.21),
    (8.1,0.04),(8.2,0.18),(8.3,-0.06),(8.4,0.23),(8.6,0.25),(8.8,0.06),(8.9,0.19),(9.0,-0.04),(9.1,0.26),(9.2,0.1),(9.4,0.31),(9.5,0.22),(9.6,-0.06),(9.7,0.14),(9.8,0.33),
    (10.0,0.04),(10.1,0.27),(10.2,0.12),(10.4,0.3),(10.5,0.2),(10.6,-0.08),(10.7,0.35),(10.8,0.2),(11.0,0.13),(11.1,-0.22),(11.2,-0.18),(11.3,0.4),(11.4,0.05),(11.5,-0.1),
    (11.6,0.32),(11.8,0.17),(11.9,-0.28),(12.0,0.27),(12.2,0.24),(12.3,-0.15),(12.4,0.02),(12.5,0.22),(12.6,-0.2),(12.7,0.29),(12.2,-0.22),(10.6,0.1)]
r_agem_pts = [(0.9,9.93),(1.9,9.86),(2.0,9.95),(2.2,9.9),(2.6,9.88),(3.0,9.93),(3.3,9.98),(3.4,9.82),(3.6,9.68),(3.7,9.62),(3.8,9.75),(3.9,9.9),(4.0,9.95),(4.2,10.03),
    (4.4,9.7),(4.5,9.9),(4.6,9.8),(4.7,9.6),(4.8,10.05),(4.9,9.75),(5.0,9.58),(5.2,9.85),(5.4,9.72),(5.6,9.58),(5.7,9.8),(5.8,9.92),(6.0,9.85),(6.1,9.68),(6.3,9.93),
    (6.4,9.78),(6.5,9.6),(6.6,9.88),(6.8,9.95),(7.0,9.7),(7.1,9.6),(7.2,9.85),(7.4,9.75),(7.5,9.95),(7.6,9.65),(7.7,9.38),(7.8,9.88),(7.9,9.55),(8.0,10.05),(8.1,9.75),
    (8.3,9.9),(8.4,9.58),(8.5,10.12),(8.6,9.4),(8.8,9.8),(8.9,10.18),(9.0,9.6),(9.1,9.95),(9.2,9.42),(9.3,10.08),(9.4,9.8),(9.5,9.1),(9.6,10.0),(9.7,9.65),(9.8,10.15),
    (9.9,9.45),(10.0,9.88),(10.2,10.05),(10.3,9.6),(10.4,9.42),(10.5,9.8),(10.6,9.98),(10.7,10.15),(10.8,9.5),(10.9,9.75),(11.0,10.1),(11.1,9.35),(11.2,9.9),(11.3,10.02),
    (11.4,9.25),(11.5,9.7),(11.6,10.12),(11.7,9.85),(11.8,9.5),(11.9,10.05),(12.0,9.95),(12.1,9.65),(12.2,9.4),(12.3,9.82),(12.4,10.1),(12.5,9.55),(12.6,9.9),(12.6,9.3),
    (12.3,8.97),(9.7,10.2),(11.2,10.2)]
r_agel_pts = [(0.6,9.5),(1.1,9.35),(2.0,9.22),(2.2,9.2),(2.4,9.28),(2.6,9.1),(2.7,8.82),(2.9,9.0),(3.1,9.12),(3.3,8.95),(3.4,9.07),(3.6,8.85),(3.7,9.2),(3.9,8.95),
    (4.0,8.75),(4.1,9.05),(4.3,8.9),(4.5,9.0),(4.6,8.85),(4.8,9.1),(5.0,8.9),(5.2,8.6),(5.3,8.95),(5.5,8.6),(5.6,9.05),(5.8,8.95),(6.0,8.88),(6.2,9.0),(6.4,8.95),(6.6,8.82),
    (6.8,9.02),(7.0,8.9),(7.2,9.1),(7.3,8.98),(7.4,8.8),(7.6,9.25),(7.7,8.92),(7.8,8.7),(7.9,8.98),(8.0,8.6),(8.1,8.85),(8.3,9.05),(8.4,8.78),(8.5,8.95),(8.6,8.7),(8.8,9.02),
    (8.9,8.6),(9.0,8.85),(9.2,8.75),(9.3,9.15),(9.4,8.65),(9.5,8.9),(9.6,8.55),(9.7,8.8),(9.8,9.2),(9.9,8.7),(10.0,9.0),(10.1,8.85),(10.2,9.3),(10.3,8.58),(10.4,8.95),
    (10.5,9.1),(10.6,8.75),(10.7,9.85),(10.8,8.6),(10.9,9.05),(11.0,8.45),(11.1,9.2),(11.2,8.8),(11.3,8.45),(11.4,9.1),(11.5,9.35),(11.6,8.95),(11.7,9.87),(11.8,8.42),
    (11.9,9.15),(12.0,9.85),(12.1,8.55),(12.2,9.22),(12.3,8.7),(12.4,9.3),(12.5,9.05),(12.6,8.55),(12.7,9.35),(12.0,8.45),(12.3,9.44)]

# SN position (dashed lines), kpc
dq_sn = [2.4]
ej_sn = [7.75]
fe_sn = [4.0]
te_sn = [4.9]
cw_sn = [3.45, 3.85]
r_sn = [3.4]

col_titles = [r'$\langle$[O/H]$\rangle_{\rm M}$', r'$\langle$[O/H]$\rangle_{\rm L}$',
              r'$\langle$log(t$_{*}$)$\rangle_{\rm M}$', r'$\langle$log(t$_{*}$)$\rangle_{\rm L}$']
row_names = ['SN 1999dq', 'SN 1999ej', 'SN 2001fe', 'SN 2006te', 'SNe 07A/97cw', 'SN 2007R']

rows = [
    dict(xlim=(-0.8, 10.9), xticks=[0, 2, 4, 6, 8, 10], sn=dq_sn,
         oh=((-0.2, 0.5), [-0.2, -0.1, 0.0, 0.1, 0.2, 0.3, 0.4, 0.5], 5),
         age=((8.0, 10.2), [8.0, 8.5, 9.0, 9.5, 10.0], 5),
         panels=[(dq_ohm_pts, dq_bins, dq_ohm_mean), (dq_ohl_pts, dq_bins, dq_ohl_mean),
                 (dq_agem_pts, dq_bins, dq_agem_mean), (dq_agel_pts, dq_bins, dq_agel_mean)]),
    dict(xlim=(-0.8, 10.9), xticks=[0, 2, 4, 6, 8, 10], sn=ej_sn,
         oh=((0.0, 0.5), [0.0, 0.1, 0.2, 0.3, 0.4, 0.5], 5),
         age=((9.5, 10.5), [9.6, 9.8, 10.0, 10.2, 10.4], 4),
         panels=[(ej_ohm_pts, ej_bins, ej_ohm_mean), (ej_ohl_pts, ej_bins, ej_ohl_mean),
                 (ej_agem_pts, ej_bins, ej_agem_mean), (ej_agel_pts, ej_agel_bins, ej_agel_mean)]),
    dict(xlim=(-0.8, 8.0), xticks=[0, 2, 4, 6, 8], sn=fe_sn,
         oh=((-0.2, 0.5), [-0.2, -0.1, 0.0, 0.1, 0.2, 0.3, 0.4, 0.5], 5),
         age=((8.0, 10.2), [8.0, 8.5, 9.0, 9.5, 10.0], 5),
         panels=[(fe_ohm_pts, fe_bins, fe_ohm_mean), (fe_ohl_pts, fe_bins, fe_ohl_mean),
                 (fe_agem_pts, fe_bins, fe_agem_mean), (fe_agel_pts, fe_bins, fe_agel_mean)]),
    dict(xlim=(-0.9, 10.0), xticks=[0, 2, 4, 6, 8, 10], sn=te_sn,
         oh=((-0.4, 0.5), [-0.4, -0.2, 0.0, 0.2, 0.4], 4),
         age=((7.97, 10.2), [8.0, 8.5, 9.0, 9.5, 10.0], 5),
         panels=[(te_ohm_pts, te_bins, te_ohm_mean), (te_ohl_pts, te_bins, te_ohl_mean),
                 (te_agem_pts, te_bins, te_agem_mean), (te_agel_pts, te_bins, te_agel_mean)]),
    dict(xlim=(-1.0, 12.8), xticks=[0, 2, 4, 6, 8, 10, 12], sn=cw_sn,
         oh=((-0.3, 0.51), [-0.2, 0.0, 0.2, 0.4], 4),
         age=((8.0, 10.2), [8.0, 8.5, 9.0, 9.5, 10.0], 5),
         panels=[(cw_ohm_pts, cw_bins, cw_ohm_mean), (cw_ohl_pts, cw_bins, cw_ohl_mean),
                 (cw_agem_pts, cw_bins, cw_agem_mean), (cw_agel_pts, cw_bins, cw_agel_mean)]),
    dict(xlim=(-1.0, 12.8), xticks=[0, 2, 4, 6, 8, 10, 12], sn=r_sn,
         oh=((-0.3, 0.5), [-0.2, 0.0, 0.2, 0.4], 4),
         age=((8.0, 10.2), [8.0, 8.5, 9.0, 9.5, 10.0], 5),
         panels=[(r_ohm_pts, r_bins, r_ohm_mean), (r_ohl_pts, r_bins, r_ohl_mean),
                 (r_agem_pts, r_bins, r_agem_mean), (r_agel_pts, r_bins, r_agel_mean)]),
]

# ---------------- figure ----------------
sns.set_style('ticks')
plt.rcParams['font.family'] = ['Liberation Sans', 'DejaVu Sans']
plt.rcParams['mathtext.fontset'] = 'custom'
plt.rcParams['mathtext.rm'] = 'Liberation Sans'
plt.rcParams['mathtext.it'] = 'Liberation Sans:italic'
plt.rcParams['axes.unicode_minus'] = False
plt.rcParams['text.color'] = 'black'
plt.rcParams['xtick.color'] = 'black'
plt.rcParams['ytick.color'] = 'black'

W, H = 1227, 1449
fig = plt.figure(figsize=(W / 100, H / 100), dpi=100)
col_left = [53, 317, 649, 913]
row_top = [32, 263, 494, 726, 957, 1189]
pw, ph = 264, 197

for r, row in enumerate(rows):
    for c in range(4):
        ax = fig.add_axes([col_left[c] / W, 1 - (row_top[r] + ph) / H, pw / W, ph / H])
        pts, bx, by = row['panels'][c]
        ylim, yticks, ysub = row['oh'] if c < 2 else row['age']

        for xs in row['sn']:
            ax.axvline(xs, color='black', lw=1.6, ls=(0, (5.5, 3.5)), zorder=1)
        sns.scatterplot(x=[p[0] for p in pts], y=[p[1] for p in pts], ax=ax,
                        color='black', s=13, linewidth=0, legend=False, zorder=2)
        sns.scatterplot(x=bx, y=by, ax=ax, color='#0000ff', s=105,
                        linewidth=0, legend=False, zorder=3)

        ax.set_xlim(*row['xlim'])
        ax.set_ylim(*ylim)
        ax.set_xticks(row['xticks'])
        ax.set_xticklabels([str(t) for t in row['xticks']])
        ax.set_yticks(yticks)
        if c in (0, 2):
            ax.set_yticklabels([f'{t:.1f}' for t in yticks])
        else:
            ax.set_yticklabels([])
        ax.xaxis.set_minor_locator(AutoMinorLocator(4))
        ax.yaxis.set_minor_locator(AutoMinorLocator(ysub))
        ax.tick_params(which='both', direction='in', top=True, right=True,
                       width=1.2, labelsize=13, pad=5, colors='black')
        ax.tick_params(which='major', length=6)
        ax.tick_params(which='minor', length=3)
        for sp in ax.spines.values():
            sp.set_linewidth(1.5)
            sp.set_color('black')
        ax.set_xlabel('')
        ax.set_ylabel('')

        if r == 0:
            fig.text((col_left[c] + pw / 2) / W, 1 - 14 / H, col_titles[c],
                     ha='center', va='center', fontsize=16)
    fig.text(1200 / W, 1 - (row_top[r] + ph / 2) / H, row_names[r], rotation=270,
             ha='center', va='center', fontsize=20)

fig.text(612 / W, 1 - 1430 / H, 'de\u2212projected galactocentric distance [kpc]',
         ha='center', va='center', fontsize=20.5)

fig.savefig('out.png', dpi=100)
